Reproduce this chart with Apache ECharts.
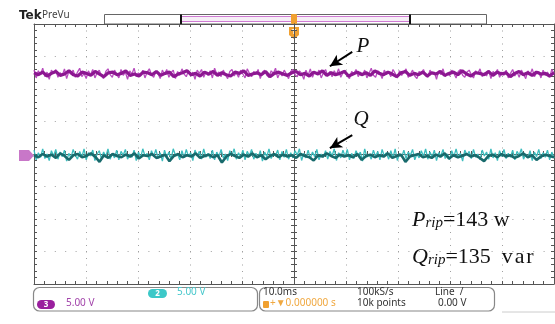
<!DOCTYPE html>
<html>
<head>
<meta charset="utf-8">
<script src="https://cdn.jsdelivr.net/npm/echarts@6/dist/echarts.min.js"></script>
<style>
  html, body { margin: 0; padding: 0; background: #fff; }
  #chart { width: 555px; height: 324px; }
</style>
</head>
<body>
<div id="chart"></div>
<script>
// time base: 10 ms/div, 10 divisions; vertical: 5 V/div, 8 divisions
const timeRange = [-50, 50];
const voltRange = [-20, 20];

// P trace (ch3): noise spikes and darker core
const pSpikes = [
  12.9,11.7,12.8,12.2,13.2,11.9,12.6,11.5,12.9,12.4,13.0,11.8,12.5,12.1,13.1,11.6,12.7,12.3,12.9,11.8,
  12.6,13.2,11.9,12.4,11.6,12.8,12.2,13.0,11.7,12.5,12.9,12.0,11.6,12.7,13.1,12.2,11.8,12.9,12.3,11.7,
  13.0,12.1,12.6,11.5,12.8,12.3,13.2,11.9,12.5,12.0,12.9,11.7,12.6,13.1,12.2,11.8,12.7,12.4,11.6,12.9,
  12.2,13.0,11.8,12.5,12.9,11.6,12.7,12.1,13.1,12.3,11.9,12.8,12.0,12.6,11.5,12.9,12.4,13.0,11.8,12.6,
  12.1,12.8,11.7,13.2,12.3,12.6,11.9,12.9,12.2,11.6,12.7,13.0,12.0,12.5,11.8,12.9,12.3,11.7,13.1,12.4,
  11.9,12.7,12.2,13.0,11.6,12.6,12.9,12.1,11.8,12.8,12.4,13.2,11.7,12.5,12.0,12.9,12.3,11.6,12.7,13.0,
  12.2,11.9,12.8,12.4,11.5,12.9,12.1,13.1,11.8,12.6,12.3,12.9,11.7,12.5,13.0,12.0,12.7,11.9,12.8,12.2,
  13.1,11.8,12.5,12.9,12.0,11.6,12.7,12.3,13.0,11.9,12.6,12.2,12.9,11.7,12.4,13.2,12.1,11.8,12.8,12.5,
  11.6,12.9,12.2,12.7,11.9,13.0,12.4,11.7,12.8,12.1,12.6,13.1,11.8,12.3,12.9,12.0,11.6,12.7,12.5,13.0,
  12.1,11.8,12.9,12.3,12.6,11.5,12.8,12.2,13.1,11.9,12.5,12.0,12.9,12.4,11.7,12.7,13.0,12.1,11.8,12.6,
  12.9,12.2,11.7,12.8,12.4,13.1,11.9,12.5,12.0,12.9,11.6,12.7,12.3,13.0,11.8,12.6,12.1,12.9,11.7,12.4,
  13.0,12.0,12.6,11.8,12.9,12.3,11.6,12.8,12.2,13.1,11.9,12.5,12.7,11.7,12.9,12.1,12.6,11.8,13.0,12.4
];
const pCore = [
  12.5,12.2,12.6,12.0,12.4,12.7,12.1,12.3,12.8,12.2,12.0,12.6,12.4,12.1,12.7,12.3,11.9,12.5,12.6,12.2,
  12.4,12.8,12.1,12.3,12.0,12.6,12.5,12.2,12.7,12.1,12.4,12.6,11.9,12.3,12.5,12.8,12.2,12.4,12.0,12.6,
  12.3,12.7,12.1,12.5,12.2,12.0,12.6,12.4,12.8,12.1,12.3,12.5,12.2,12.7,11.9,12.4,12.6,12.3,12.1,12.5,
  12.7,12.2,12.4,12.0,12.6,12.3,12.8,12.1,12.5,12.2,12.4,12.7,12.0,12.3,12.6,12.2,12.5,12.1,12.8,12.4,
  12.2,12.6,12.3,11.9,12.5,12.7,12.1,12.4,12.2,12.6,12.0,12.5,12.3,12.7,12.1,12.4,12.6,12.2,12.8,12.3,
  12.0,12.5,12.4,12.2,12.7,12.1,12.6,12.3,12.5,11.9,12.4,12.7,12.2,12.5,12.1,12.6,12.3,12.4,12.0,12.5
];

// Q trace (ch2)
const qSpikes = [
  0.6,-0.9,0.2,-0.5,0.8,-0.7,0.0,-1.0,0.5,-0.3,0.7,-0.8,0.3,-0.4,0.6,-1.1,0.1,-0.6,0.7,-0.2,
  -0.8,0.4,-0.5,0.8,-0.9,0.2,-0.3,0.6,-1.0,0.0,0.5,-0.7,0.3,-0.4,0.8,-0.8,0.1,-0.6,0.6,-0.9,
  0.4,-0.2,0.7,-0.8,0.0,-0.5,0.6,-1.0,0.3,-0.6,0.8,-0.3,0.1,-0.9,0.5,-0.4,0.7,-0.7,0.2,-1.1,
  0.6,-0.5,0.3,-0.8,0.8,-0.2,0.0,-0.9,0.5,-0.6,0.7,-0.4,0.2,-1.0,0.6,-0.3,0.4,-0.8,0.8,-0.5,
  0.1,-0.7,0.6,-0.9,0.3,-0.4,0.7,-0.6,0.0,-1.0,0.5,-0.2,0.8,-0.8,0.2,-0.5,0.6,-0.9,0.4,-0.3,
  0.7,-0.8,0.1,-0.6,0.5,-1.1,0.3,-0.4,0.8,-0.7,0.0,-0.3,0.6,-0.9,0.4,-0.5,0.7,-0.8,0.2,-0.6,
  0.5,-0.2,0.8,-1.0,0.1,-0.6,0.6,-0.7,0.3,-0.4,0.7,-0.9,0.0,-0.5,0.5,-0.8,0.4,-0.3,0.8,-1.0,
  0.2,-0.6,0.6,-0.4,0.7,-0.9,0.1,-0.7,0.5,-0.2,0.3,-1.1,0.8,-0.5,0.0,-0.8,0.6,-0.4,0.4,-0.9,
  0.7,-0.3,0.2,-0.8,0.5,-0.6,0.8,-1.0,0.1,-0.5,0.6,-0.7,0.3,-0.2,0.7,-0.9,0.0,-0.6,0.5,-0.4,
  0.8,-0.8,0.3,-0.5,0.6,-1.0,0.2,-0.3,0.7,-0.7,0.0,-0.9,0.5,-0.4,0.8,-0.6,0.1,-1.1,0.6,-0.2,
  0.4,-0.7,0.7,-0.5,0.0,-0.9,0.6,-0.3,0.3,-0.8,0.8,-0.6,0.2,-1.0,0.5,-0.4,0.7,-0.7,0.1,-0.5,
  0.6,-0.9,0.4,-0.2,0.8,-0.8,0.0,-0.6,0.5,-1.0,0.3,-0.4,0.7,-0.7,0.2,-0.5,0.6,-0.9,0.3,-0.6
];
const qCore = [
  -0.2,-0.5,0.0,-0.4,-0.1,-0.6,0.1,-0.3,-0.9,-0.2,0.0,-0.5,-0.3,0.1,-0.4,-1.2,-0.2,-0.6,0.0,-0.3,
  -0.5,-0.1,-0.4,0.1,-0.7,-0.2,-0.3,0.0,-0.6,-0.4,-0.1,-1.1,-0.3,0.0,-0.5,-0.2,-0.4,0.1,-0.6,-0.3,
  -0.1,-0.5,-0.2,-1.3,-0.4,0.0,-0.3,-0.6,-0.1,-0.4,0.1,-0.5,-0.2,-0.8,-0.3,0.0,-0.5,-0.1,-0.4,-0.2,
  -0.6,0.0,-0.3,-0.5,-1.0,-0.2,-0.4,0.1,-0.3,-0.6,-0.1,-0.4,-0.2,-0.5,0.0,-0.9,-0.3,-0.1,-0.5,-0.2,
  -0.4,0.1,-0.6,-0.3,-0.1,-1.2,-0.4,-0.2,0.0,-0.5,-0.3,-0.6,-0.1,-0.4,0.1,-0.7,-0.2,-0.5,-0.3,0.0,
  -0.4,-0.2,-0.6,-1.1,-0.3,-0.1,-0.5,0.0,-0.4,-0.2,-0.6,-0.3,0.1,-0.5,-0.2,-0.9,-0.4,-0.1,-0.3,-0.5
];

// arrows pointing at the traces, in data coords (ms, V)
const pArrow = [[11.2, 15.7], [6.9, 13.5]];
const qArrow = [[11.2, 2.9], [6.9, 0.9]];

function withTime(vals) {
  const n = vals.length;
  return vals.map((v, i) => [timeRange[0] + i * (timeRange[1] - timeRange[0]) / (n - 1), v]);
}

const chart = echarts.init(document.getElementById('chart'), null, { renderer: 'canvas' });

const frameColor = '#555';
const uiFont = '"Noto Sans", "Open Sans", sans-serif';
const serif = '"Liberation Serif", "DejaVu Serif", serif';

function edgeAxis(pos, onZero, extra) {
  return Object.assign({
    type: 'value',
    position: pos,
    axisLine: { show: true, onZero: onZero, lineStyle: { color: frameColor, width: 1 } },
    axisTick: { show: true, inside: true, length: 3, lineStyle: { color: frameColor } },
    minorTick: { show: true, splitNumber: 5, length: 3, lineStyle: { color: frameColor } },
    axisLabel: { show: false },
    splitLine: { show: false }
  }, extra);
}

const xBase = { min: timeRange[0], max: timeRange[1], interval: 10 };
const yBase = { min: voltRange[0], max: voltRange[1], interval: 5 };

function arrowLine(pts) {
  return {
    silent: true,
    symbol: ['none', 'arrow'],
    symbolSize: [9, 12],
    label: { show: false },
    lineStyle: { color: '#000', width: 2, type: 'solid' },
    data: [[{ coord: pts[0] }, { coord: pts[1] }]]
  };
}

function trace(name, vals, color, width, extra) {
  return Object.assign({
    name: name, type: 'line', xAxisIndex: 0, yAxisIndex: 0,
    showSymbol: false, silent: true,
    data: withTime(vals),
    lineStyle: { color: color, width: width }
  }, extra);
}

const richRip = {
  m: { font: 'italic 22px ' + serif, fill: '#111', lineHeight: 24, verticalAlign: 'bottom' },
  s: { font: 'italic 15px ' + serif, fill: '#111', lineHeight: 15, verticalAlign: 'bottom' },
  n: { font: '22px ' + serif, fill: '#111', lineHeight: 24, verticalAlign: 'bottom' }
};

const option = {
  animation: false,
  backgroundColor: '#fff',
  grid: { left: 34, top: 24, width: 520, height: 260, containLabel: false },
  xAxis: [
    edgeAxis('bottom', false, Object.assign({}, xBase, {
      splitLine: { show: true, lineStyle: { color: '#a0a0a0', width: 1, type: [1, 5.5] } }
    })),
    edgeAxis('top', false, xBase),
    edgeAxis('bottom', true, xBase),
    edgeAxis('top', true, xBase)
  ],
  yAxis: [
    edgeAxis('left', false, Object.assign({}, yBase, {
      splitLine: { show: true, lineStyle: { color: '#a0a0a0', width: 1, type: [1, 9.4] } }
    })),
    edgeAxis('right', false, yBase),
    edgeAxis('left', true, yBase),
    edgeAxis('right', true, yBase)
  ],
  series: [
    trace('P', pSpikes, '#b84cbe', 1.3),
    trace('P core', pCore, '#8c1791', 3.2, { markLine: arrowLine(pArrow) }),
    trace('Q', qSpikes, '#3bbdbe', 1.3),
    trace('Q core', qCore, '#186a6c', 2.6, { markLine: arrowLine(qArrow) })
  ],
  graphic: [
    // header
    { type: 'text', left: 19, top: 10, style: { text: 'Tek', font: 'bold 12px "DejaVu Sans", sans-serif', fill: '#222' } },
    { type: 'text', left: 42, top: 10, style: { text: 'PreVu', font: '10px ' + uiFont, fill: '#444' } },
    // record bar
    { type: 'rect', shape: { x: 104.5, y: 14.5, width: 382, height: 9.5 }, style: { fill: '#fff', stroke: '#666', lineWidth: 1 } },
    { type: 'rect', shape: { x: 181, y: 16.5, width: 229, height: 5 }, style: { fill: '#f6eef6', stroke: '#cf7ad3', lineWidth: 1 } },
    { type: 'rect', shape: { x: 180, y: 14.5, width: 2, height: 9.5 }, style: { fill: '#111' } },
    { type: 'rect', shape: { x: 409, y: 14.5, width: 2, height: 9.5 }, style: { fill: '#111' } },
    // trigger position markers
    { type: 'rect', shape: { x: 291, y: 14, width: 6, height: 10, r: 1 }, style: { fill: '#f0a030' } },
    { type: 'polygon', shape: { points: [[289, 27], [299, 27], [299, 35], [294, 39], [289, 35]] }, style: { fill: '#f0a030' } },
    { type: 'text', x: 294, y: 32, style: { text: 'T', font: 'bold 7px sans-serif', fill: '#fff', align: 'center', verticalAlign: 'middle' } },
    // channel ground marker
    { type: 'polygon', shape: { points: [[19, 150], [29, 150], [34, 155.5], [29, 161], [19, 161]] }, style: { fill: '#c877c8' } },
    // annotations
    { type: 'text', x: 363, y: 46, style: { text: 'P', font: 'italic 21px ' + serif, fill: '#111', align: 'center', verticalAlign: 'middle' } },
    { type: 'text', x: 361, y: 119, style: { text: 'Q', font: 'italic 21px ' + serif, fill: '#111', align: 'center', verticalAlign: 'middle' } },
    { type: 'text', left: 412, top: 209, style: { text: '{m|P}{s|rip}{n|=143 w}', rich: richRip } },
    { type: 'text', left: 412, top: 246, style: { text: '{m|Q}{s|rip}{n|=135\u2002v\u200Aa\u200Ar}', rich: richRip } },
    // channel readout box
    { type: 'rect', shape: { x: 33.5, y: 287.5, width: 224, height: 23.5, r: 6 }, style: { fill: '#fff', stroke: '#888', lineWidth: 1.2 } },
    { type: 'rect', shape: { x: 148, y: 289, width: 19, height: 9, r: 4.5 }, style: { fill: '#3cc8c8' } },
    { type: 'text', x: 157.5, y: 293.5, style: { text: '2', font: 'bold 8px ' + uiFont, fill: '#fff', align: 'center', verticalAlign: 'middle' } },
    { type: 'text', left: 177, top: 287, style: { text: '5.00 V', font: '10px ' + uiFont, fill: '#48c8cc' } },
    { type: 'rect', shape: { x: 37, y: 300, width: 18, height: 9, r: 4.5 }, style: { fill: '#9a1f9e' } },
    { type: 'text', x: 46, y: 304.5, style: { text: '3', font: 'bold 8px ' + uiFont, fill: '#fff', align: 'center', verticalAlign: 'middle' } },
    { type: 'text', left: 66, top: 298, style: { text: '5.00 V', font: '10px ' + uiFont, fill: '#a244aa' } },
    // timebase / trigger box
    { type: 'rect', shape: { x: 259.5, y: 287.5, width: 235, height: 23.5, r: 6 }, style: { fill: '#fff', stroke: '#888', lineWidth: 1.2 } },
    { type: 'text', left: 263, top: 287, style: { text: '10.0ms', font: '10px ' + uiFont, fill: '#333' } },
    { type: 'rect', shape: { x: 263, y: 301, width: 6, height: 7, r: 1 }, style: { fill: '#f0a030' } },
    { type: 'text', left: 270, top: 298, style: { text: '+\u25BC0.000000 s', font: '10px ' + uiFont, fill: '#f0a840' } },
    { type: 'text', left: 357, top: 287, style: { text: '100kS/s', font: '10px ' + uiFont, fill: '#333' } },
    { type: 'text', left: 357, top: 298, style: { text: '10k points', font: '10px ' + uiFont, fill: '#333' } },
    { type: 'text', left: 435, top: 287, style: { text: 'Line  /', font: '10px ' + uiFont, fill: '#333' } },
    { type: 'text', left: 438, top: 298, style: { text: '0.00 V', font: '10px ' + uiFont, fill: '#333' } },
    { type: 'line', shape: { x1: 502, y1: 312, x2: 555, y2: 312 }, style: { stroke: '#ccc', lineWidth: 1 } }
  ]
};

chart.setOption(option);
</script>
</body>
</html>
